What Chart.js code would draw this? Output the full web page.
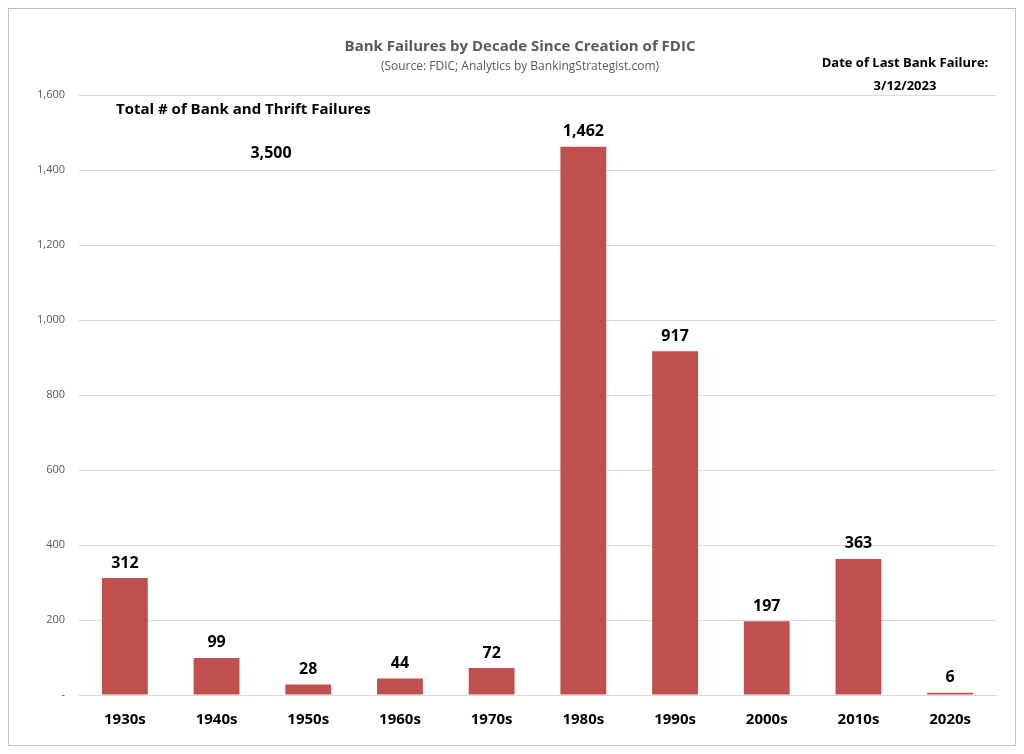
<!DOCTYPE html>
<html><head><meta charset="utf-8">
<script src="https://cdn.jsdelivr.net/npm/chart.js@4"></script>
<style>html,body{margin:0;padding:0;background:#fff}#w{width:1024px;height:754px;position:relative}</style>
</head><body><div id="w"><canvas id="c"></canvas></div>
<script>
const decades=["1930s","1940s","1950s","1960s","1970s","1980s","1990s","2000s","2010s","2020s"];
const failures=[312,99,28,44,72,1462,917,197,363,6];
const yTicks=[0,200,400,600,800,1000,1200,1400,1600];
const F='"Open Sans", "Noto Sans", sans-serif';
const deco={id:'deco',afterDraw(ch){
 const c=ch.ctx;c.save();
 c.strokeStyle='#bfbfbf';c.lineWidth=1;c.strokeRect(8.5,8.5,1007,737);
 c.textAlign='center';c.textBaseline='middle';
 c.fillStyle='#595959';c.font='bold 15px '+F;c.fillText('Bank Failures by Decade Since Creation of FDIC',520,47);
 c.font='12px '+F;c.fillText('(Source: FDIC; Analytics by BankingStrategist.com)',520,67);
 c.fillStyle='#000';c.font='bold 13px '+F;
 c.fillText('Date of Last Bank Failure:',905,63);c.fillText('3/12/2023',905,86);
 c.font='bold 15px '+F;c.textAlign='left';c.fillText('Total # of Bank and Thrift Failures',116,110);
 c.textAlign='center';c.font='bold 16px '+F;c.fillText('3,500',271,153);
 const m=ch.getDatasetMeta(0);c.font='bold 16px '+F;c.textBaseline='bottom';
 m.data.forEach((b,i)=>c.fillText(failures[i].toLocaleString('en-US'),b.x,b.y-7));
 c.restore();}};
new Chart(document.getElementById('c'),{type:'bar',
 data:{labels:decades,datasets:[{data:failures,backgroundColor:'#C0504D',barPercentage:0.5,categoryPercentage:1}]},
 options:{responsive:true,maintainAspectRatio:false,animation:false,
  layout:{padding:{top:95,right:28,left:23,bottom:17}},
  plugins:{legend:{display:false},tooltip:{enabled:false}},
  scales:{
   x:{grid:{display:false},border:{color:'#d9d9d9'},ticks:{color:'#000',font:{family:F,size:15,weight:'bold'},padding:8}},
   y:{min:0,max:1600,afterBuildTicks(s){s.ticks=yTicks.map(v=>({value:v}));},
      grid:{color:'#d9d9d9',drawTicks:false},border:{display:false},
      ticks:{color:'#595959',font:{family:F,size:11},padding:14,callback:v=>v===0?'-':v.toLocaleString('en-US')}}}},
 plugins:[deco]});
</script></body></html>
